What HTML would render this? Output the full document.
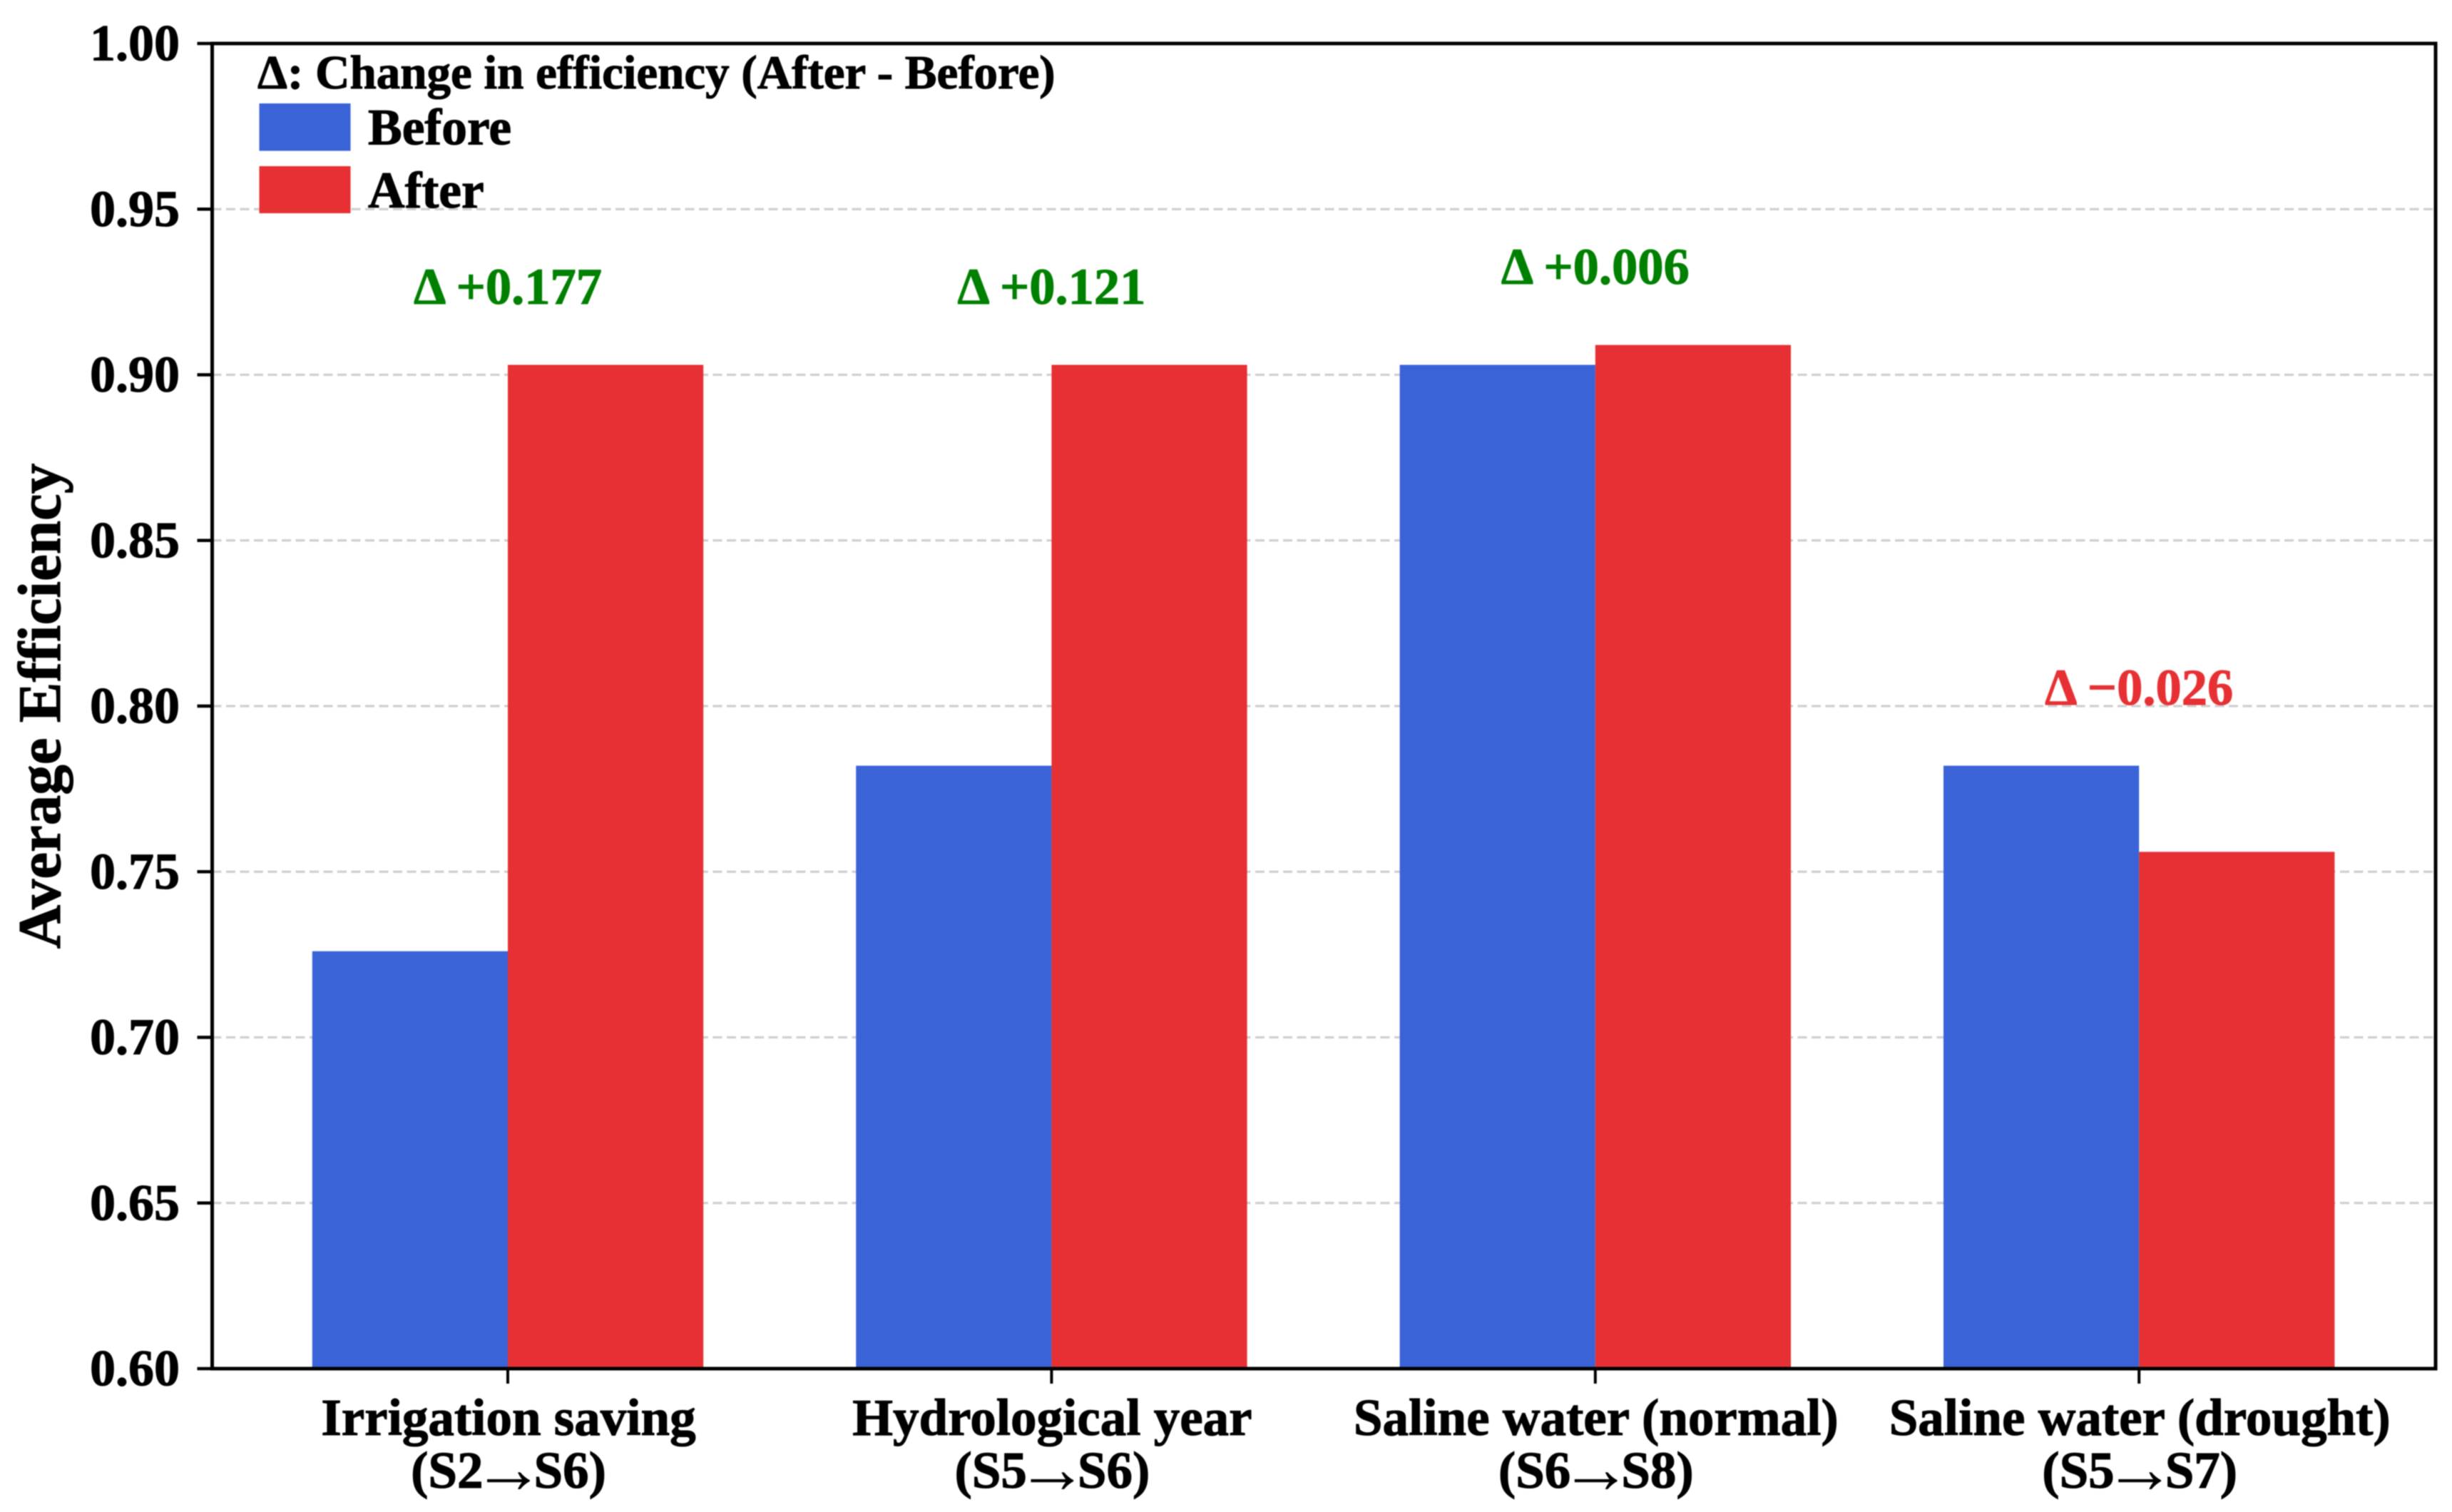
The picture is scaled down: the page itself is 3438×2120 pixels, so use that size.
<!DOCTYPE html>
<html lang="en">
<head>
<meta charset="utf-8">
<title>Average Efficiency Before and After</title>
<style>
html,body{margin:0;padding:0;background:#fff;}
#chart{display:block;width:3438px;height:2120px;filter:blur(0.7px);}
text{font-family:"Liberation Serif","Times New Roman",serif;font-weight:bold;fill:#000;stroke:#000;stroke-width:1.1px;}
</style>
</head>
<body>
<svg id="chart" xmlns="http://www.w3.org/2000/svg" width="3438" height="2120" viewBox="0 0 3438 2120">
  <rect x="0" y="0" width="3438" height="2120" fill="#fff"/>
  <g id="grid"></g>
  <g id="bars"></g>
  <g id="deltas"></g>
  <g id="axes"></g>
  <text x="84" y="990" font-size="85" text-anchor="middle" transform="rotate(-90 84 990)">Average Efficiency</text>
  <g>
    <text x="361" y="124" font-size="67">Δ: Change in efficiency (After - Before)</text>
    <rect x="363.5" y="145" width="128" height="66.5" fill="#3B63D8"/>
    <text x="516" y="202.5" font-size="71.5">Before</text>
    <rect x="363.5" y="233" width="128" height="66" fill="#E63033"/>
    <text x="516" y="291" font-size="71.5">After</text>
  </g>
</svg>
<script>
const categories = ["Irrigation saving", "Hydrological year", "Saline water (normal)", "Saline water (drought)"];
const transitionFrom = ["S2", "S5", "S6", "S5"];
const transitionTo = ["S6", "S6", "S8", "S7"];
const beforeValues = [0.726, 0.782, 0.903, 0.782];
const afterValues = [0.903, 0.903, 0.909, 0.756];
const yTicks = [0.60, 0.65, 0.70, 0.75, 0.80, 0.85, 0.90, 0.95, 1.00];

const NS = "http://www.w3.org/2000/svg";
const plot = { left: 297.5, right: 3415, top: 61, bottom: 1919 };
const yMin = 0.60, yMax = 1.00;
const firstCenter = 712, step = 762.4, barWidth = 274.2;

function yScale(v) {
  return plot.bottom - (v - yMin) / (yMax - yMin) * (plot.bottom - plot.top);
}
function xScale(i) {
  return firstCenter + i * step;
}
function make(tag, parent) {
  const el = document.createElementNS(NS, tag);
  parent.appendChild(el);
  return el;
}
function setAll(el, pairs) {
  for (const k in pairs) el.setAttribute(k, pairs[k]);
}

const gridG = document.getElementById("grid");
const barsG = document.getElementById("bars");
const deltasG = document.getElementById("deltas");
const axesG = document.getElementById("axes");

yTicks.forEach(function (t) {
  const y = yScale(t);
  if (t > yMin && t < yMax) {
    const g = make("line", gridG);
    setAll(g, { x1: plot.left, x2: plot.right, y1: y, y2: y, stroke: "#cfcfcf", "stroke-width": 3.2, "stroke-dasharray": "13 6.5" });
    
    
  }
  const tick = make("line", axesG);
  setAll(tick, { x1: plot.left - 21, x2: plot.left, y1: y, y2: y, stroke: "#000", "stroke-width": 4.5 });
  
  
  const label = make("text", axesG);
  setAll(label, { x: 252, y: y + 23.5, "font-size": 72, "text-anchor": "end" });
  label.textContent = t.toFixed(2);
  
  
});

categories.forEach(function (name, i) {
  const cx = xScale(i);
  const b = make("rect", barsG);
  setAll(b, { x: cx - barWidth, y: yScale(beforeValues[i]), width: barWidth, height: yScale(yMin) - yScale(beforeValues[i]), fill: "#3B63D8" });
  
  
  const a = make("rect", barsG);
  setAll(a, { x: cx, y: yScale(afterValues[i]), width: barWidth, height: yScale(yMin) - yScale(afterValues[i]), fill: "#E63033" });
  
  

  const diff = afterValues[i] - beforeValues[i];
  const d = make("text", deltasG);
  const top = Math.max(beforeValues[i], afterValues[i]);
  setAll(d, { x: cx, y: yScale(top) - 85.5, "font-size": 72.5, "text-anchor": "middle" });
  const deltaColor = diff >= 0 ? "#008000" : "#E63033";
  d.style.fill = deltaColor;
  d.style.stroke = deltaColor;
  d.textContent = "Δ " + (diff >= 0 ? "+" : "−") + Math.abs(diff).toFixed(3);
  
  

  const tick = make("line", axesG);
  setAll(tick, { x1: cx, x2: cx, y1: plot.bottom, y2: plot.bottom + 21, stroke: "#000", "stroke-width": 4 });
  
  

  const l1 = make("text", axesG);
  setAll(l1, { x: cx + 1, y: 2012, "font-size": 73, "text-anchor": "middle" });
  l1.textContent = name;
  
  

  const l2 = make("text", axesG);
  setAll(l2, { x: cx + 1, y: 2086, "font-size": 73, "text-anchor": "middle" });
  
  
  const partA = make("tspan", l2);
  partA.textContent = "(" + transitionFrom[i];
  const arrow = make("tspan", l2);
  setAll(arrow, { dx: -15, dy: 7, "font-size": 101 });
  arrow.style.strokeWidth = "0";
  arrow.textContent = "→";
  const partB = make("tspan", l2);
  setAll(partB, { dx: -15, dy: -7 });
  partB.textContent = transitionTo[i] + ")";
});

const frame = make("rect", axesG);
setAll(frame, { x: plot.left, y: plot.top, width: plot.right - plot.left, height: plot.bottom - plot.top, fill: "none", stroke: "#000", "stroke-width": 5 });


</script>
</body>
</html>
